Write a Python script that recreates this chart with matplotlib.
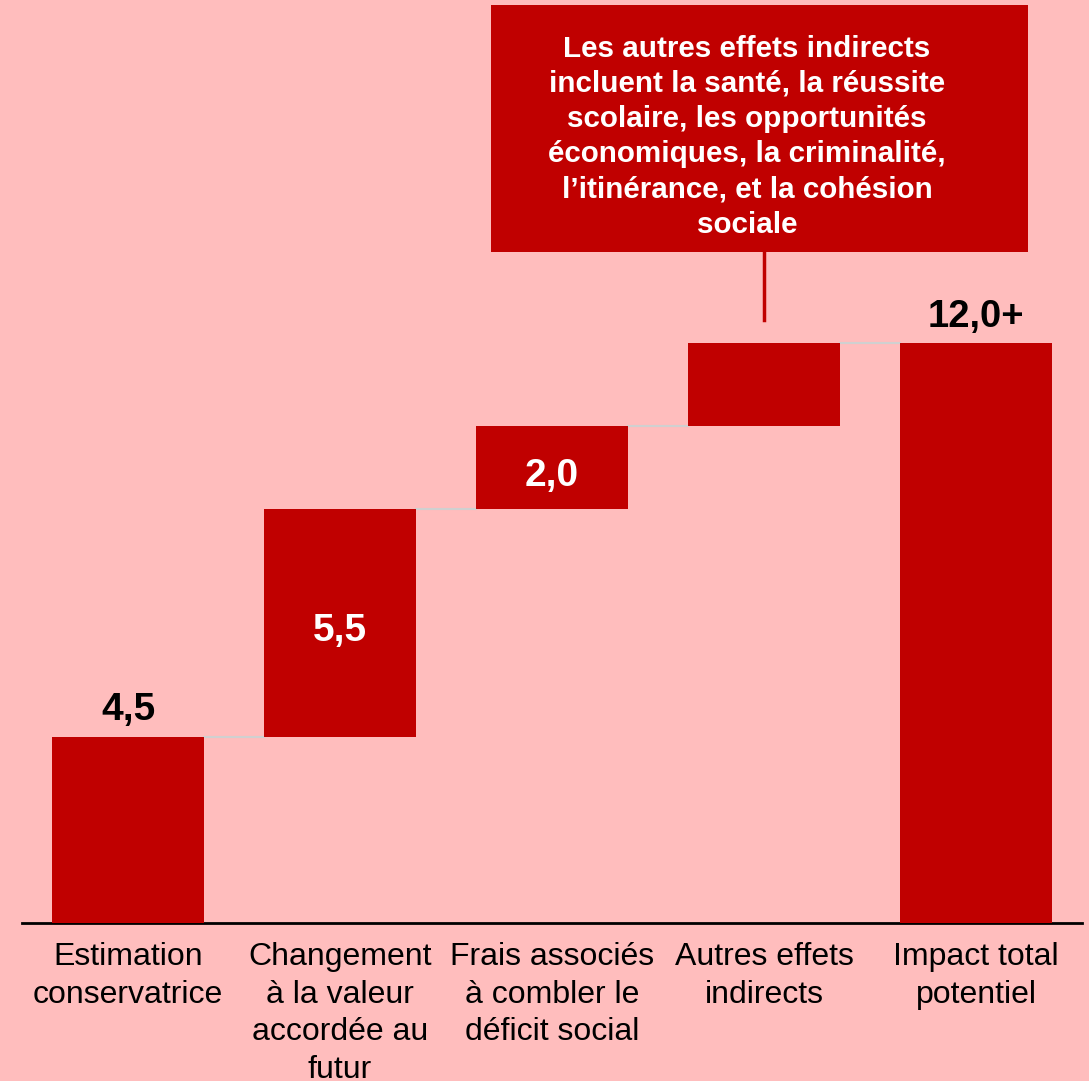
import numpy as np
import matplotlib.pyplot as plt
from matplotlib.patches import Rectangle

plt.rcParams['font.family'] = ['Liberation Sans', 'DejaVu Sans']

# Waterfall data
categories = ['Estimation\nconservatrice',
              'Changement\nà la valeur\naccordée au\nfutur',
              'Frais associés\nà combler le\ndéficit social',
              'Autres effets\nindirects',
              'Impact total\npotentiel']
steps = [4.5, 5.5, 2.0, 2.0]          # last step is not quantified (no label)
step_labels = ['4,5', '5,5', '2,0', None]
quantified = sum(steps[:3])
total_label = f'{quantified:.1f}'.replace('.', ',') + '+'
callout = ("Les autres effets indirects\nincluent la santé, la réussite\n"
           "scolaire, les opportunités\néconomiques, la criminalité,\n"
           "l’itinérance, et la cohésion\nsociale")

bg = '#FFBDBD'
red = '#C00000'

fig = plt.figure(figsize=(10.89, 10.81), dpi=100, facecolor=bg)
ax = fig.add_axes([22 / 1089, 1 - 923 / 1081, 1060 / 1089, 923 / 1081])
ax.set_facecolor(bg)

x = np.arange(len(categories))
bottoms = np.concatenate([[0], np.cumsum(steps)[:-1]])
total = sum(steps)
w = 0.717

ax.bar(x[:4], steps, bottom=bottoms, width=w, color=red, zorder=3)
ax.bar(x[4], total, width=w, color=red, zorder=3)

# connector lines between bars
levels = np.cumsum(steps)
for i in range(4):
    ax.plot([x[i] + w / 2, x[i + 1] - w / 2], [levels[i], levels[i]],
            color='#D0D0D0', lw=1.5, zorder=2)

# value labels
ax.text(x[0], steps[0] + 0.2, step_labels[0], ha='center', va='bottom',
        fontsize=28, fontweight='bold', color='black')
for i in (1, 2):
    ax.text(x[i], bottoms[i] + steps[i] / 2 - 0.2, step_labels[i], ha='center',
            va='center', fontsize=28, fontweight='bold', color='white', zorder=4)
ax.text(x[4], total + 0.2, total_label, ha='center', va='bottom',
        fontsize=27.5, fontweight='bold', color='black')

# callout box for the unquantified effects
box_y0 = 16.21
ax.add_patch(Rectangle((1.712, box_y0), 4.245 - 1.712, 22.17 - box_y0,
                       facecolor=red, edgecolor='none', zorder=3, clip_on=False))
ax.text(2.92, (box_y0 + 22.17) / 2 - 0.2, callout, ha='center', va='center',
        color='white', fontsize=21.3, fontweight='bold', linespacing=1.33, zorder=4)
ax.plot([x[3], x[3]], [box_y0, levels[3] + 0.57], color=red, lw=2.5, zorder=3)

ax.set_xlim(-0.5, 4.5)
ax.set_ylim(0, 923 / 41.4)
ax.set_xticks(x)
ax.set_xticklabels(categories, fontsize=23, linespacing=1.32)
ax.tick_params(axis='x', length=0, pad=14)
ax.set_yticks([])
for s in ['top', 'left', 'right']:
    ax.spines[s].set_visible(False)
ax.spines['bottom'].set_linewidth(2)
ax.spines['bottom'].set_color('black')

fig.savefig('out.png', dpi=100, facecolor=bg)
